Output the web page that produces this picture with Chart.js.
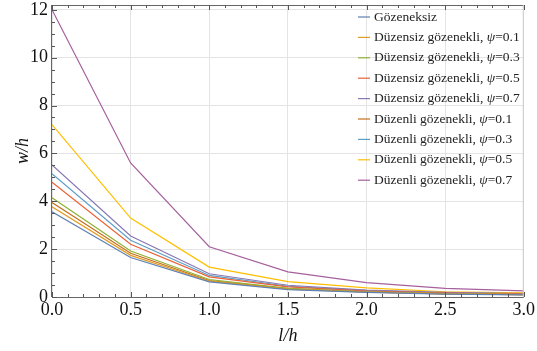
<!DOCTYPE html>
<html>
<head>
<meta charset="utf-8">
<script src="https://cdn.jsdelivr.net/npm/chart.js@4"></script>
<style>
  html, body { margin: 0; padding: 0; background: #fff; }
  #wrap { width: 537px; height: 351px; }
</style>
</head>
<body>
<div id="wrap"><canvas id="myChart" width="537" height="351"></canvas></div>
<script>
// l/h values on the x axis
const lh = [0, 0.5, 1.0, 1.5, 2.0, 2.5, 3.0];

// w/h for each case
const gozeneksiz = [3.56, 1.65, 0.63, 0.31, 0.19, 0.12, 0.09];
const duzensiz01 = [3.77, 1.74, 0.66, 0.33, 0.20, 0.13, 0.10];
const duzensiz03 = [4.15, 1.92, 0.73, 0.36, 0.22, 0.14, 0.10];
const duzensiz05 = [4.80, 2.20, 0.84, 0.42, 0.25, 0.16, 0.12];
const duzensiz07 = [5.52, 2.55, 0.97, 0.49, 0.29, 0.19, 0.14];
const duzenli01 = [3.95, 1.83, 0.69, 0.35, 0.21, 0.13, 0.10];
const duzenli03 = [5.15, 2.37, 0.90, 0.45, 0.27, 0.17, 0.13];
const duzenli05 = [7.20, 3.30, 1.25, 0.64, 0.38, 0.22, 0.17];
const duzenli07 = [12.0, 5.60, 2.10, 1.05, 0.60, 0.36, 0.26];

const xTicks = [0, 0.5, 1.0, 1.5, 2.0, 2.5, 3.0];
const yTicks = [0, 2, 4, 6, 8, 10, 12];

// legend text: [prefix, psi value or null]
const names = [
  ['Gözeneksiz', null],
  ['Düzensiz gözenekli, ', '0.1'],
  ['Düzensiz gözenekli, ', '0.3'],
  ['Düzensiz gözenekli, ', '0.5'],
  ['Düzensiz gözenekli, ', '0.7'],
  ['Düzenli gözenekli, ', '0.1'],
  ['Düzenli gözenekli, ', '0.3'],
  ['Düzenli gözenekli, ', '0.5'],
  ['Düzenli gözenekli, ', '0.7']
];
const series = [gozeneksiz, duzensiz01, duzensiz03, duzensiz05, duzensiz07,
                 duzenli01, duzenli03, duzenli05, duzenli07];
const colors = ['#5E81B5', '#E19C24', '#8FB032', '#EB6235', '#8778B3',
                '#C56E1A', '#5D9EC7', '#FFBF00', '#A5609D'];

const SERIF = "'Liberation Serif', 'Times New Roman', serif";

// legend drawn inside the plot, like the original
const insideLegend = {
  id: 'insideLegend',
  afterDraw(chart) {
    const c = chart.ctx;
    c.save();
    c.textBaseline = 'middle';
    chart.data.datasets.forEach((ds, i) => {
      const y = 17 + i * 20.4;
      c.strokeStyle = ds.borderColor;
      c.lineWidth = 1.2;
      c.beginPath();
      c.moveTo(358, y);
      c.lineTo(370, y);
      c.stroke();
      let x = 374;
      c.fillStyle = '#222';
      c.font = '13.5px ' + SERIF;
      c.fillText(names[i][0], x, y);
      if (names[i][1]) {
        x += c.measureText(names[i][0]).width;
        c.font = 'italic 13.5px ' + SERIF;
        c.fillText('ψ', x, y);
        x += c.measureText('ψ').width;
        c.font = '13.5px ' + SERIF;
        c.fillText('=' + names[i][1], x, y);
      }
    });
    c.restore();
  }
};

// frame with inward ticks
const frameTicks = {
  id: 'frameTicks',
  afterDatasetsDraw(chart) {
    const c = chart.ctx;
    const a = chart.chartArea;
    const xs = chart.scales.x, ys = chart.scales.y;
    c.save();
    c.strokeStyle = '#666';
    c.lineWidth = 1;
    c.beginPath();
    c.moveTo(a.left, a.bottom + 0.5); c.lineTo(a.right, a.bottom + 0.5);
    c.moveTo(a.left - 0.5, a.top); c.lineTo(a.left - 0.5, a.bottom);
    c.moveTo(a.left, a.top + 0.5); c.lineTo(a.right, a.top + 0.5);
    c.stroke();
    c.strokeStyle = '#ccc';
    c.beginPath();
    c.moveTo(a.right - 0.5, a.top); c.lineTo(a.right - 0.5, a.bottom);
    c.stroke();
    c.strokeStyle = '#555';
    c.beginPath();
    for (let v = 0; v <= 3.0001; v += 0.1) {
      const px = Math.round(xs.getPixelForValue(v)) + 0.5;
      const major = Math.abs(v * 2 - Math.round(v * 2)) < 1e-6;
      const len = major ? 5 : 3;
      c.moveTo(px, a.bottom); c.lineTo(px, a.bottom - len);
      c.moveTo(px, a.top); c.lineTo(px, a.top + len);
    }
    for (let v = 0; v <= 12.0001; v += 0.5) {
      const py = Math.round(ys.getPixelForValue(v)) + 0.5;
      const major = Math.abs(v / 2 - Math.round(v / 2)) < 1e-6;
      const len = major ? 5 : 3;
      c.moveTo(a.left, py); c.lineTo(a.left + len, py);
    }
    c.stroke();
    c.restore();
  }
};

const ctx = document.getElementById('myChart');

let chart = new Chart(ctx, {
  type: 'line',
  data: {
    datasets: series.map((s, i) => ({
      label: names[i][0] + (names[i][1] ? 'ψ=' + names[i][1] : ''),
      data: s.map((v, j) => ({ x: lh[j], y: v })),
      borderColor: colors[i],
      backgroundColor: colors[i],
      borderWidth: 1.2,
      pointRadius: 0,
      tension: 0,
      fill: false
    }))
  },
  options: {
    responsive: false,
    animation: false,
    layout: { padding: { left: 0, right: 12, top: 5, bottom: 0 } },
    plugins: {
      legend: { display: false },
      tooltip: { enabled: false }
    },
    scales: {
      x: {
        type: 'linear',
        min: 0,
        max: 3,
        afterBuildTicks: (s) => { s.ticks = xTicks.map(v => ({ value: v })); },
        afterFit: (s) => { s.height = 54; },
        border: { display: false },
        grid: { color: '#e4e4e4', drawTicks: false, lineWidth: 1 },
        ticks: {
          color: '#111',
          padding: 2,
          maxRotation: 0,
          font: { family: SERIF, size: 18 },
          callback: (v) => Number(v).toFixed(1)
        },
        title: {
          display: true,
          text: 'l/h',
          color: '#111',
          padding: { top: 4 },
          font: { family: SERIF, size: 18, style: 'italic' }
        }
      },
      y: {
        type: 'linear',
        min: 0,
        max: 12.2,
        afterBuildTicks: (s) => { s.ticks = yTicks.map(v => ({ value: v })); },
        afterFit: (s) => { s.width = 52; s.paddingTop = 0; s.paddingBottom = 0; },
        border: { display: false },
        grid: { color: '#e4e4e4', drawTicks: false, lineWidth: 1 },
        ticks: {
          color: '#111',
          padding: 4,
          font: { family: SERIF, size: 18 }
        },
        title: {
          display: true,
          text: 'w/h',
          color: '#111',
          padding: { top: 12, bottom: 0 },
          font: { family: SERIF, size: 18, style: 'italic' }
        }
      }
    }
  },
  plugins: [frameTicks, insideLegend]
});
</script>
</body>
</html>
